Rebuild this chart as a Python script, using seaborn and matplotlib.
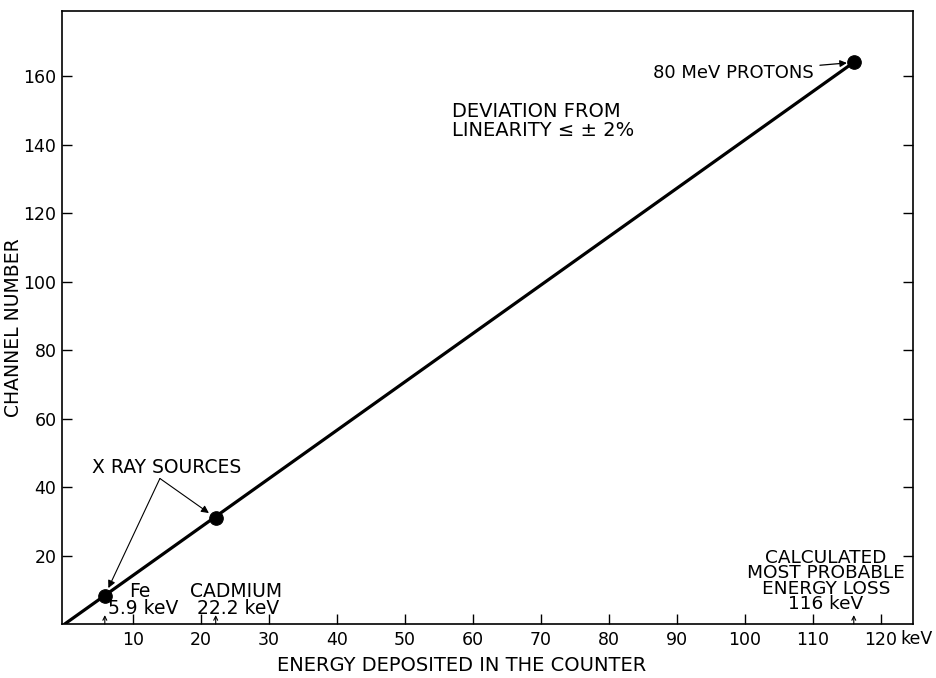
import matplotlib
matplotlib.use("Agg")
import matplotlib.pyplot as plt
import seaborn as sns
import pandas as pd

# Calibration sources: deposited energy (keV) and measured channel
source_names = ["Fe", "Cadmium", "80 MeV protons"]
source_energy = [5.9, 22.2, 116.0]
source_channel = [8.3, 31.0, 164.0]

# Linear calibration line
fit_energy = [0.0, 116.0]
fit_channel = [0.0, 164.0]

x_ticks = [10, 20, 30, 40, 50, 60, 70, 80, 90, 100, 110, 120]
x_tick_labels = ["10", "20", "30", "40", "50", "60", "70", "80", "90", "100", "110", "120"]
y_ticks = [20, 40, 60, 80, 100, 120, 140, 160]
y_tick_labels = ["20", "40", "60", "80", "100", "120", "140", "160"]

sns.set_style("ticks")
plt.rcParams["font.family"] = ["DejaVu Sans"]
plt.rcParams["text.color"] = "black"
plt.rcParams["axes.labelcolor"] = "black"

fig = plt.figure(figsize=(9.36, 6.78), dpi=100)
ax = fig.add_axes([0.0662, 0.0796, 0.9092, 0.9042])

points = pd.DataFrame({"source": source_names, "energy": source_energy, "channel": source_channel})
line = pd.DataFrame({"energy": fit_energy, "channel": fit_channel})

sns.lineplot(data=line, x="energy", y="channel", color="black", linewidth=2.3, ax=ax)
sns.scatterplot(data=points, x="energy", y="channel", color="black", s=95, edgecolor="black",
                zorder=5, ax=ax, legend=False)

ax.set_xlim(-0.4, 124.7)
ax.set_ylim(0, 179)
ax.set_xticks(x_ticks)
ax.set_xticklabels(x_tick_labels)
ax.set_yticks(y_ticks)
ax.set_yticklabels(y_tick_labels)
ax.tick_params(direction="in", length=7, width=1.0, labelsize=12.5, right=True, top=False,
               colors="black", pad=5)
ax.tick_params(axis="y", pad=4)
for s in ax.spines.values():
    s.set_linewidth(1.2)
    s.set_color("black")

# unit written after the last x tick label
ax.text(122.9, -4.3, "keV", fontsize=12.5, ha="left", va="center")

ax.set_xlabel("ENERGY DEPOSITED IN THE COUNTER", fontsize=14, va="center")
ax.xaxis.set_label_coords(0.47, -0.067)
ax.set_ylabel("CHANNEL NUMBER", fontsize=13.5, va="center")
ax.yaxis.set_label_coords(-0.057, 0.484)

ax.text(56.9, 152.4, "DEVIATION FROM\nLINEARITY \u2264 \u00b1 2%", fontsize=14,
        ha="left", va="top", linespacing=1.0)

ax.annotate("80 MeV PROTONS", xy=(source_energy[2], source_channel[2]), xytext=(86.5, 161.0),
            fontsize=13, ha="left", va="center",
            arrowprops=dict(arrowstyle="-|>", color="black", lw=0.9, mutation_scale=10,
                            shrinkA=2, shrinkB=5))

ax.text(4.0, 45.8, "X RAY SOURCES", fontsize=13.5, ha="left", va="center")
for ex, ey in [(source_energy[0], source_channel[0]), (source_energy[1], source_channel[1])]:
    ax.annotate("", xy=(ex, ey), xytext=(14.0, 42.5),
                arrowprops=dict(arrowstyle="-|>", color="black", lw=0.8, mutation_scale=11,
                                shrinkA=0, shrinkB=6))

ax.text(9.5, 8.0, "Fe", fontsize=13.5, ha="left", va="baseline")
ax.text(6.3, 2.8, "5.9 keV", fontsize=13.5, ha="left", va="baseline")
ax.text(18.4, 8.0, "CADMIUM", fontsize=13.5, ha="left", va="baseline")
ax.text(19.5, 2.8, "22.2 keV", fontsize=13.5, ha="left", va="baseline")
ax.text(111.9, 4.3, "CALCULATED\nMOST PROBABLE\nENERGY LOSS\n116 keV", fontsize=13.3,
        ha="center", va="baseline", linespacing=0.82)

for ex in source_energy:
    ax.annotate("", xy=(ex, 2.6), xytext=(ex, 0.0),
                arrowprops=dict(arrowstyle="->", color="black", lw=0.8, mutation_scale=7,
                                shrinkA=0, shrinkB=0))

fig.savefig("out.png", dpi=100)
